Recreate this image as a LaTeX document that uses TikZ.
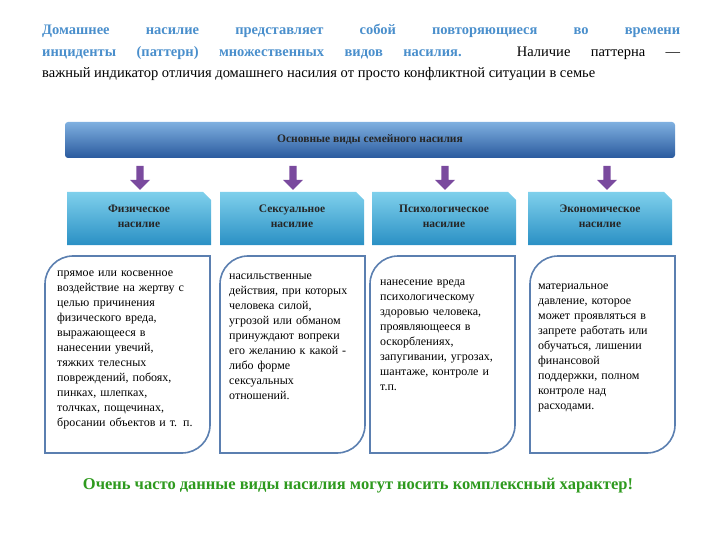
\documentclass[tikz,border=0pt]{standalone}
\usepackage{fontspec}
\setmainfont{Liberation Serif}
\usetikzlibrary{shapes.arrows}
\definecolor{hblue}{HTML}{4A8FCC}
\definecolor{bord}{HTML}{5B7FB0}
\definecolor{grn}{HTML}{2E9A1E}
\definecolor{purp}{HTML}{7A4A9E}
\definecolor{htop}{HTML}{7FB0E0}
\definecolor{hbot}{HTML}{2A5A9E}
\definecolor{ctop}{HTML}{7FD0EC}
\definecolor{cbot}{HTML}{2A90C4}
\tikzset{
 cat/.style={font=\bfseries\fontsize{11.5}{15}\selectfont, align=center, text=black!85},
 body/.style={font=\fontsize{12}{15}\selectfont, align=left, anchor=north west, text width=#1, inner sep=0pt},
 arr/.style={single arrow, draw=none, fill=purp, rotate=-90, minimum height=24pt, minimum width=20pt, single arrow head extend=4pt, inner sep=2pt},
 pan/.style={draw=bord, line width=1.6pt, fill=white}
}
\begin{document}
\begin{tikzpicture}[x=1pt,y=-1pt]
\useasboundingbox (0,0) rectangle (720,540);
\node[text width=638pt, align=justify, inner sep=0pt, anchor=north west, font=\fontsize{14.5}{21.5}\selectfont] (intro) at (42,24)
{{\color{hblue}\bfseries Домашнее насилие представляет собой повторяющиеся во времени\linebreak инциденты (паттерн) множественных видов насилия.} Наличие паттерна —\linebreak важный индикатор отличия домашнего насилия от просто конфликтной ситуации в семье};
% header
\shade[top color=htop, bottom color=hbot, rounded corners=3pt] (65,122) rectangle (675,158);
\node[font=\bfseries\fontsize{11.5}{13}\selectfont, text=black!85] (hdr) at (370,140) {Основные виды семейного насилия};
% categories
\foreach \x/\n/\a/\b in {67/c1/Физическое/насилие, 220/c2/Сексуальное/насилие, 372/c3/Психологическое/насилие, 528/c4/Экономическое/насилие}{
  \shade[top color=ctop, bottom color=cbot] (\x,192) -- (\x+136,192) -- (\x+144,200) -- (\x+144,245) -- (\x,245) -- cycle;
  \node[cat] (\n) at (\x+72,216) {\a\\\b};
}
\foreach \x/\n in {140/a1,293/a2,445/a3,607/a4}{
  \node[arr] (\n) at (\x,176) {};
}
% panels
\foreach \x/\w in {45/165,220/145,370/145,530/145}{
  \draw[pan] (\x+28,256) -- (\x+\w,256) -- (\x+\w,425) arc[start angle=0,end angle=90,radius=28] -- (\x,453) -- (\x,284) arc[start angle=180,end angle=270,radius=28];
}
\node[body=152pt] (t1) at (57,271) {прямое или косвенное\\воздействие на жертву с\\целью причинения\\физического вреда,\\выражающееся в\\нанесении увечий,\\тяжких телесных\\повреждений, побоях,\\пинках, шлепках,\\толчках, пощечинах,\\бросании объектов и т. п.};
\node[body=140pt] (t2) at (229,274) {насильственные\\действия, при которых\\человека силой,\\угрозой или обманом\\принуждают вопреки\\его желанию к какой -\\либо форме\\сексуальных\\отношений.};
\node[body=140pt] (t3) at (380,280) {нанесение вреда\\психологическому\\здоровью человека,\\проявляющееся в\\оскорблениях,\\запугивании, угрозах,\\шантаже, контроле и\\т.п.};
\node[body=140pt] (t4) at (538,284) {материальное\\давление, которое\\может проявляться в\\запрете работать или\\обучаться, лишении\\финансовой\\поддержки, полном\\контроле над\\расходами.};
\node[font=\bfseries\fontsize{16.5}{19}\selectfont, text=grn] (foot) at (358,486) {Очень часто данные виды насилия могут носить комплексный характер!};
\end{tikzpicture}
\end{document}
